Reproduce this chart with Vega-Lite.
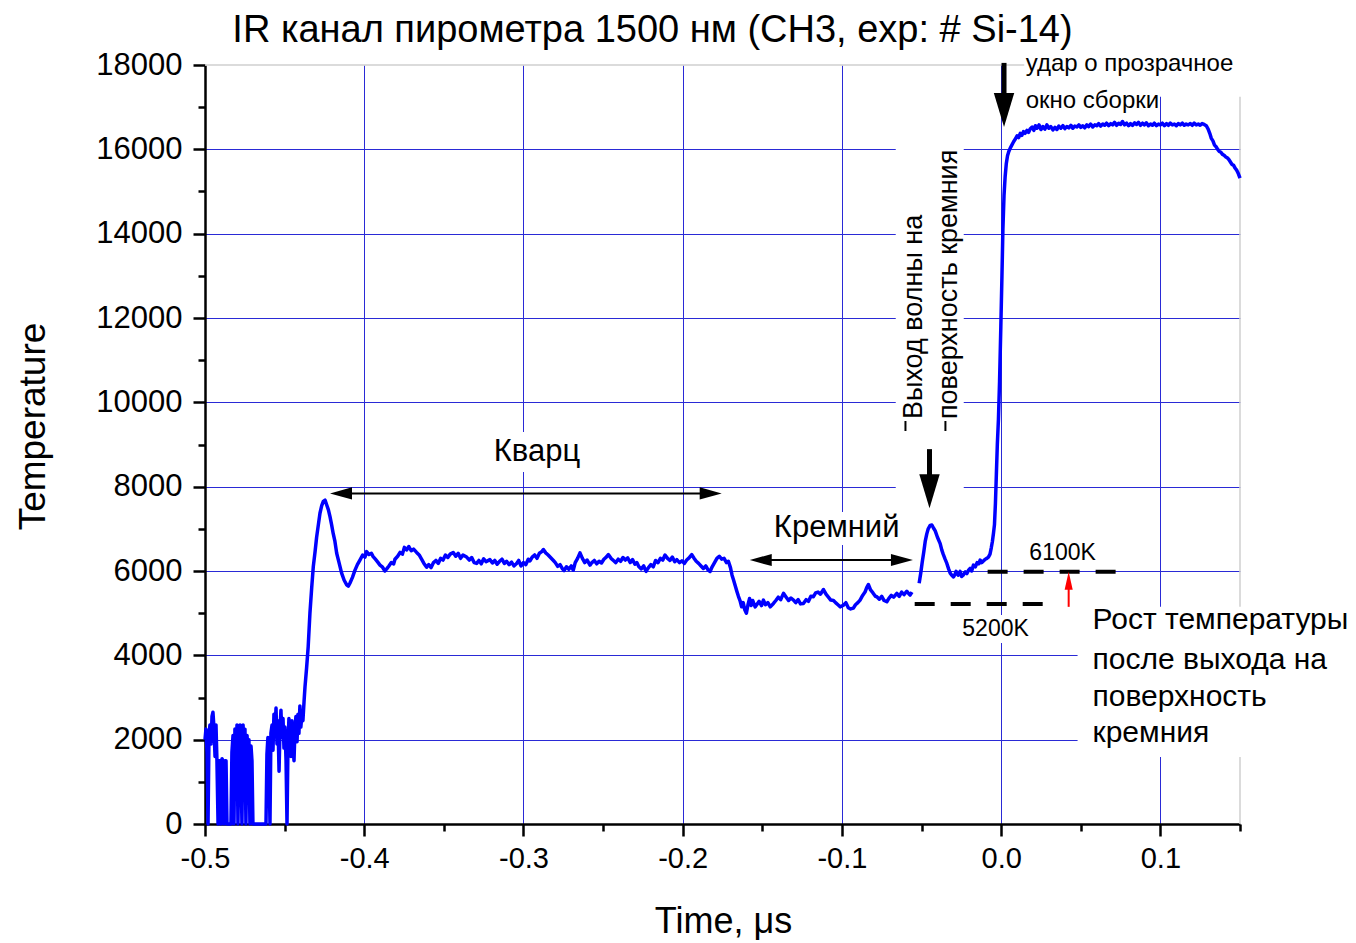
{
"$schema":"https://vega.github.io/schema/vega-lite/v6.json",
"width":1035,"height":759,"autosize":"none",
"padding":{"left":205,"top":65,"right":116,"bottom":119},
"background":"white",
"config":{"view":{"stroke":null},"font":"Liberation Sans"},
"title":{"text":"IR канал пирометра 1500 нм (CH3, exp: # Si-14)","font":"Liberation Sans","fontSize":38,"fontWeight":"normal","color":"black","anchor":"middle","dx":-70,"dy":39,"offset":8,"baseline":"alphabetic"},
"datasets":{
"curveA":[
{"t":-0.5,"T":2000},{"t":-0.4994,"T":2250},{"t":-0.4987,"T":1700},{"t":-0.4981,"T":0},{"t":-0.4975,"T":2100},{"t":-0.4969,"T":2350},{"t":-0.4962,"T":1900},{"t":-0.4956,"T":2550},{"t":-0.495,"T":2650},{"t":-0.4944,"T":2300},{"t":-0.4937,"T":1600},{"t":-0.4931,"T":2350},{"t":-0.4925,"T":1500},{"t":-0.4918,"T":0},{"t":-0.4912,"T":1500},{"t":-0.4906,"T":1500},{"t":-0.49,"T":0},{"t":-0.4893,"T":1550},{"t":-0.4887,"T":1500},{"t":-0.4881,"T":0},{"t":-0.4874,"T":1500},{"t":-0.4868,"T":1500},{"t":-0.4862,"T":0},{"t":-0.4837,"T":0},{"t":-0.4831,"T":1700},{"t":-0.4824,"T":2100},{"t":-0.4818,"T":0},{"t":-0.4812,"T":2250},{"t":-0.4805,"T":1550},{"t":-0.4799,"T":2350},{"t":-0.4793,"T":0},{"t":-0.4787,"T":1900},{"t":-0.478,"T":2350},{"t":-0.4774,"T":1500},{"t":-0.4768,"T":0},{"t":-0.4761,"T":2350},{"t":-0.4755,"T":1800},{"t":-0.4749,"T":2250},{"t":-0.4743,"T":0},{"t":-0.4736,"T":2100},{"t":-0.473,"T":1700},{"t":-0.4724,"T":2000},{"t":-0.4718,"T":0},{"t":-0.4711,"T":1850},{"t":-0.4705,"T":1500},{"t":-0.4699,"T":0},{"t":-0.4617,"T":0},{"t":-0.4611,"T":1650},{"t":-0.4605,"T":2050},{"t":-0.4598,"T":1500},{"t":-0.4592,"T":0},{"t":-0.4586,"T":2150},{"t":-0.4579,"T":2350},{"t":-0.4573,"T":1750},{"t":-0.4567,"T":2600},{"t":-0.4561,"T":2100},{"t":-0.4554,"T":2750},{"t":-0.4548,"T":1900},{"t":-0.4542,"T":2450},{"t":-0.4535,"T":1250},{"t":-0.4529,"T":2250},{"t":-0.4523,"T":2700},{"t":-0.4517,"T":2050},{"t":-0.451,"T":2500},{"t":-0.4504,"T":1800},{"t":-0.4498,"T":2300},{"t":-0.4491,"T":1500},{"t":-0.4485,"T":0},{"t":-0.4479,"T":1850},{"t":-0.4473,"T":2500},{"t":-0.4466,"T":2200},{"t":-0.446,"T":1600},{"t":-0.4454,"T":2450},{"t":-0.4448,"T":1900},{"t":-0.4441,"T":1500},{"t":-0.4435,"T":2250},{"t":-0.4429,"T":2550},{"t":-0.4422,"T":1950},{"t":-0.4416,"T":2600},{"t":-0.441,"T":2150},{"t":-0.4404,"T":2800},{"t":-0.4398,"T":2300},{"t":-0.4391,"T":2600},{"t":-0.4385,"T":2450},{"t":-0.4378,"T":2900},
{"t":-0.4372,"T":3250},{"t":-0.4362,"T":3700},{"t":-0.4352,"T":4200},{"t":-0.4341,"T":5000},{"t":-0.433,"T":5600},{"t":-0.432,"T":6100},{"t":-0.4309,"T":6450},{"t":-0.4299,"T":6800},{"t":-0.4288,"T":7100},{"t":-0.4278,"T":7370},{"t":-0.4267,"T":7550},{"t":-0.4257,"T":7650},{"t":-0.4246,"T":7680},{"t":-0.4236,"T":7570},{"t":-0.4225,"T":7450},{"t":-0.4215,"T":7290},{"t":-0.4205,"T":7100},{"t":-0.4195,"T":6890},{"t":-0.4184,"T":6700},{"t":-0.4173,"T":6420},{"t":-0.4157,"T":6180},{"t":-0.4142,"T":5950},{"t":-0.4126,"T":5780},{"t":-0.411,"T":5670},{"t":-0.41,"T":5640},{"t":-0.409,"T":5710},{"t":-0.4074,"T":5850},{"t":-0.4058,"T":6020},{"t":-0.4043,"T":6150},{"t":-0.4027,"T":6260},
{"t":-0.401,"T":6380},{"t":-0.3995,"T":6330},{"t":-0.3985,"T":6460},{"t":-0.397,"T":6390},{"t":-0.3955,"T":6420},{"t":-0.3944,"T":6340},{"t":-0.393,"T":6280},{"t":-0.3915,"T":6210},{"t":-0.3901,"T":6140},{"t":-0.3885,"T":6090},{"t":-0.387,"T":6000},{"t":-0.3859,"T":6050},{"t":-0.3845,"T":6120},{"t":-0.383,"T":6200},{"t":-0.3815,"T":6170},{"t":-0.3807,"T":6280},{"t":-0.379,"T":6350},{"t":-0.3775,"T":6440},{"t":-0.376,"T":6400},{"t":-0.3748,"T":6560},{"t":-0.3734,"T":6500},{"t":-0.372,"T":6580},{"t":-0.3705,"T":6480},{"t":-0.369,"T":6520},{"t":-0.3671,"T":6440},{"t":-0.3655,"T":6380},{"t":-0.364,"T":6280},{"t":-0.3625,"T":6180},{"t":-0.3608,"T":6090},{"t":-0.3595,"T":6150},{"t":-0.358,"T":6080},{"t":-0.3565,"T":6200},{"t":-0.355,"T":6250},{"t":-0.3535,"T":6180},{"t":-0.352,"T":6300},{"t":-0.3505,"T":6260},{"t":-0.349,"T":6380},{"t":-0.3475,"T":6320},{"t":-0.346,"T":6400},{"t":-0.3441,"T":6440},{"t":-0.3425,"T":6350},{"t":-0.341,"T":6420},{"t":-0.3395,"T":6300},{"t":-0.338,"T":6380},{"t":-0.3357,"T":6330},{"t":-0.334,"T":6260},{"t":-0.3325,"T":6320},{"t":-0.331,"T":6200},{"t":-0.3294,"T":6180},{"t":-0.328,"T":6250},{"t":-0.3265,"T":6170},{"t":-0.325,"T":6290},{"t":-0.3235,"T":6220},{"t":-0.3211,"T":6270},{"t":-0.3195,"T":6190},{"t":-0.318,"T":6250},{"t":-0.3165,"T":6160},{"t":-0.315,"T":6230},{"t":-0.3135,"T":6280},{"t":-0.312,"T":6180},{"t":-0.3106,"T":6230},{"t":-0.309,"T":6150},{"t":-0.3075,"T":6210},{"t":-0.306,"T":6120},{"t":-0.3043,"T":6180},{"t":-0.303,"T":6250},{"t":-0.3015,"T":6120},{"t":-0.3,"T":6200},{"t":-0.2985,"T":6150},{"t":-0.297,"T":6280},{"t":-0.2959,"T":6240},{"t":-0.2945,"T":6330},{"t":-0.293,"T":6380},{"t":-0.2915,"T":6300},{"t":-0.29,"T":6420},{"t":-0.2885,"T":6460},{"t":-0.2875,"T":6510},{"t":-0.286,"T":6430},{"t":-0.2845,"T":6380},{"t":-0.283,"T":6320},{"t":-0.2812,"T":6250},{"t":-0.28,"T":6200},{"t":-0.2785,"T":6110},{"t":-0.277,"T":6150},{"t":-0.2755,"T":6050},{"t":-0.2745,"T":6010},{"t":-0.273,"T":6100},{"t":-0.2715,"T":6040},{"t":-0.27,"T":6120},{"t":-0.2687,"T":6020},{"t":-0.2675,"T":6200},{"t":-0.266,"T":6300},{"t":-0.2645,"T":6430},{"t":-0.263,"T":6300},{"t":-0.2615,"T":6200},{"t":-0.26,"T":6260},{"t":-0.2582,"T":6140},{"t":-0.257,"T":6200},{"t":-0.2555,"T":6250},{"t":-0.254,"T":6170},{"t":-0.2525,"T":6230},{"t":-0.251,"T":6190},{"t":-0.2495,"T":6280},{"t":-0.248,"T":6330},{"t":-0.2467,"T":6390},{"t":-0.245,"T":6300},{"t":-0.2435,"T":6250},{"t":-0.242,"T":6200},{"t":-0.2405,"T":6280},{"t":-0.239,"T":6230},{"t":-0.2375,"T":6320},{"t":-0.236,"T":6260},{"t":-0.2345,"T":6310},{"t":-0.233,"T":6200},{"t":-0.2315,"T":6270},{"t":-0.23,"T":6160},{"t":-0.2288,"T":6200},{"t":-0.2275,"T":6100},{"t":-0.226,"T":6050},{"t":-0.2245,"T":6120},{"t":-0.223,"T":5990},{"t":-0.2215,"T":6080},{"t":-0.22,"T":6150},{"t":-0.2185,"T":6100},{"t":-0.217,"T":6250},{"t":-0.2155,"T":6200},{"t":-0.214,"T":6300},{"t":-0.2125,"T":6260},{"t":-0.2111,"T":6380},{"t":-0.2095,"T":6300},{"t":-0.208,"T":6250},{"t":-0.2065,"T":6330},{"t":-0.205,"T":6220},{"t":-0.2037,"T":6270},{"t":-0.202,"T":6200},{"t":-0.2005,"T":6240},{"t":-0.199,"T":6180},{"t":-0.1975,"T":6260},{"t":-0.196,"T":6310},{"t":-0.1943,"T":6390},{"t":-0.193,"T":6310},{"t":-0.1915,"T":6230},{"t":-0.19,"T":6180},{"t":-0.1885,"T":6120},{"t":-0.187,"T":6060},{"t":-0.1855,"T":6120},{"t":-0.184,"T":6020},{"t":-0.1828,"T":5990},{"t":-0.1815,"T":6100},{"t":-0.18,"T":6200},{"t":-0.1785,"T":6300},{"t":-0.177,"T":6350},{"t":-0.1755,"T":6280},{"t":-0.174,"T":6300},{"t":-0.1725,"T":6200},{"t":-0.1713,"T":6230},{"t":-0.17,"T":6080},{"t":-0.169,"T":5900},{"t":-0.1681,"T":5790},{"t":-0.167,"T":5650},{"t":-0.166,"T":5520},{"t":-0.165,"T":5400},{"t":-0.164,"T":5300},{"t":-0.163,"T":5150},{"t":-0.162,"T":5250},{"t":-0.161,"T":5080},{"t":-0.16,"T":5000},{"t":-0.159,"T":5200},{"t":-0.158,"T":5350},{"t":-0.157,"T":5180},{"t":-0.156,"T":5300},{"t":-0.1545,"T":5150},{"t":-0.1535,"T":5200},{"t":-0.152,"T":5280},{"t":-0.1505,"T":5180},{"t":-0.1493,"T":5310},{"t":-0.148,"T":5200},{"t":-0.1465,"T":5250},{"t":-0.145,"T":5150},{"t":-0.143,"T":5230},{"t":-0.1415,"T":5300},{"t":-0.14,"T":5380},{"t":-0.1385,"T":5320},{"t":-0.1367,"T":5470},{"t":-0.135,"T":5380},{"t":-0.1335,"T":5300},{"t":-0.132,"T":5360},{"t":-0.1304,"T":5310},{"t":-0.129,"T":5250},{"t":-0.1275,"T":5320},{"t":-0.126,"T":5220},{"t":-0.1242,"T":5230},{"t":-0.1225,"T":5320},{"t":-0.121,"T":5280},{"t":-0.1195,"T":5400},{"t":-0.1179,"T":5390},{"t":-0.1165,"T":5480},{"t":-0.115,"T":5500},{"t":-0.1135,"T":5450},{"t":-0.1116,"T":5560},{"t":-0.11,"T":5450},{"t":-0.1085,"T":5380},{"t":-0.107,"T":5310},{"t":-0.1053,"T":5300},{"t":-0.104,"T":5250},{"t":-0.1025,"T":5200},{"t":-0.101,"T":5150},{"t":-0.0991,"T":5190},{"t":-0.0975,"T":5250},{"t":-0.096,"T":5130},{"t":-0.0945,"T":5100},{"t":-0.0928,"T":5120},{"t":-0.0915,"T":5200},{"t":-0.09,"T":5250},{"t":-0.0886,"T":5310},{"t":-0.087,"T":5420},{"t":-0.0855,"T":5500},{"t":-0.0845,"T":5600},{"t":-0.0834,"T":5680},{"t":-0.082,"T":5550},{"t":-0.0805,"T":5480},{"t":-0.079,"T":5400},{"t":-0.0781,"T":5390},{"t":-0.0765,"T":5330},{"t":-0.075,"T":5400},{"t":-0.0735,"T":5300},{"t":-0.0718,"T":5270},{"t":-0.0705,"T":5350},{"t":-0.069,"T":5420},{"t":-0.0675,"T":5380},{"t":-0.0655,"T":5470},{"t":-0.064,"T":5400},{"t":-0.0625,"T":5500},{"t":-0.061,"T":5440},{"t":-0.0592,"T":5520},{"t":-0.058,"T":5460},{"t":-0.0572,"T":5430},{"t":-0.056,"T":5500}],
"curveB":[
{"t":-0.0515,"T":5710},{"t":-0.0505,"T":5950},{"t":-0.0496,"T":6200},{"t":-0.0486,"T":6450},{"t":-0.0477,"T":6700},{"t":-0.0467,"T":6880},{"t":-0.0458,"T":7000},{"t":-0.0446,"T":7080},{"t":-0.0435,"T":7090},{"t":-0.0425,"T":7020},{"t":-0.0414,"T":6950},{"t":-0.04,"T":6800},{"t":-0.0383,"T":6650},{"t":-0.0373,"T":6500},{"t":-0.0364,"T":6400},{"t":-0.0352,"T":6280},{"t":-0.0341,"T":6180},{"t":-0.033,"T":6050},{"t":-0.032,"T":5950},{"t":-0.031,"T":5900},{"t":-0.0299,"T":5860},{"t":-0.029,"T":5920},{"t":-0.0283,"T":5990},{"t":-0.027,"T":5900},{"t":-0.0258,"T":5990},{"t":-0.0248,"T":5870},{"t":-0.0239,"T":5900},{"t":-0.0225,"T":5980},{"t":-0.0215,"T":5940},{"t":-0.0205,"T":6020},{"t":-0.0195,"T":6060},{"t":-0.0185,"T":6000},{"t":-0.0174,"T":6140},{"t":-0.0162,"T":6100},{"t":-0.0151,"T":6200},{"t":-0.014,"T":6170},{"t":-0.0132,"T":6260},{"t":-0.0122,"T":6200},{"t":-0.0113,"T":6230},{"t":-0.01,"T":6280},{"t":-0.009,"T":6300},{"t":-0.008,"T":6330},{"t":-0.007,"T":6400},{"t":-0.0062,"T":6550},{"t":-0.0055,"T":6700},{"t":-0.0048,"T":6900},{"t":-0.0042,"T":7100},{"t":-0.0036,"T":7600},{"t":-0.003,"T":8300},{"t":-0.0024,"T":9000},{"t":-0.0017,"T":9600},{"t":-0.001,"T":10500},{"t":-0.0002,"T":11800},{"t":0.0005,"T":13000},{"t":0.0011,"T":14100},{"t":0.0018,"T":14900},{"t":0.0025,"T":15350},{"t":0.0032,"T":15650},{"t":0.004,"T":15850},{"t":0.0048,"T":15950},{"t":0.0057,"T":16030},{"t":0.0067,"T":16100},{"t":0.0078,"T":16180},{"t":0.009,"T":16250},{"t":0.01,"T":16320},{"t":0.011,"T":16280},{"t":0.012,"T":16380},{"t":0.013,"T":16330},{"t":0.014,"T":16420},{"t":0.015,"T":16380},{"t":0.0162,"T":16450},{"t":0.0172,"T":16400},{"t":0.0182,"T":16480},{"t":0.0195,"T":16530},{"t":0.0205,"T":16450},{"t":0.0215,"T":16560},{"t":0.0225,"T":16500},{"t":0.0238,"T":16580},{"t":0.025,"T":16470},{"t":0.0262,"T":16540},{"t":0.0275,"T":16480},{"t":0.0287,"T":16580},{"t":0.03,"T":16500},{"t":0.0312,"T":16540},{"t":0.0325,"T":16460},{"t":0.0338,"T":16520},{"t":0.035,"T":16470},{"t":0.0362,"T":16550},{"t":0.0375,"T":16500},{"t":0.0388,"T":16560},{"t":0.04,"T":16490},{"t":0.0412,"T":16540},{"t":0.0425,"T":16510},{"t":0.0438,"T":16570},{"t":0.045,"T":16500},{"t":0.0462,"T":16550},{"t":0.0475,"T":16530},{"t":0.0488,"T":16580},{"t":0.05,"T":16520},{"t":0.0512,"T":16560},{"t":0.0525,"T":16510},{"t":0.0538,"T":16580},{"t":0.055,"T":16540},{"t":0.0562,"T":16600},{"t":0.0575,"T":16530},{"t":0.0588,"T":16580},{"t":0.06,"T":16560},{"t":0.0612,"T":16610},{"t":0.0625,"T":16550},{"t":0.0638,"T":16600},{"t":0.065,"T":16570},{"t":0.0662,"T":16620},{"t":0.0675,"T":16560},{"t":0.0688,"T":16610},{"t":0.07,"T":16580},{"t":0.0712,"T":16640},{"t":0.0725,"T":16570},{"t":0.0738,"T":16620},{"t":0.075,"T":16590},{"t":0.0762,"T":16660},{"t":0.0775,"T":16580},{"t":0.0788,"T":16620},{"t":0.08,"T":16560},{"t":0.0812,"T":16610},{"t":0.0825,"T":16570},{"t":0.0838,"T":16630},{"t":0.085,"T":16590},{"t":0.0862,"T":16640},{"t":0.0875,"T":16570},{"t":0.0888,"T":16620},{"t":0.09,"T":16580},{"t":0.0912,"T":16630},{"t":0.0925,"T":16560},{"t":0.0938,"T":16600},{"t":0.095,"T":16570},{"t":0.0962,"T":16620},{"t":0.0975,"T":16560},{"t":0.0988,"T":16600},{"t":0.1,"T":16580},{"t":0.1012,"T":16620},{"t":0.1025,"T":16560},{"t":0.1038,"T":16610},{"t":0.105,"T":16570},{"t":0.1062,"T":16620},{"t":0.1075,"T":16580},{"t":0.1088,"T":16600},{"t":0.11,"T":16560},{"t":0.1112,"T":16610},{"t":0.1125,"T":16580},{"t":0.1138,"T":16620},{"t":0.115,"T":16570},{"t":0.1162,"T":16600},{"t":0.1175,"T":16580},{"t":0.1188,"T":16610},{"t":0.12,"T":16570},{"t":0.1212,"T":16620},{"t":0.1225,"T":16580},{"t":0.1238,"T":16600},{"t":0.125,"T":16570},{"t":0.1262,"T":16610},{"t":0.1275,"T":16590},{"t":0.1288,"T":16560},{"t":0.13,"T":16480},{"t":0.131,"T":16380},{"t":0.132,"T":16260},{"t":0.133,"T":16200},{"t":0.134,"T":16100},{"t":0.135,"T":16060},{"t":0.136,"T":16000},{"t":0.137,"T":15950},{"t":0.138,"T":15930},{"t":0.139,"T":15880},{"t":0.14,"T":15860},{"t":0.141,"T":15820},{"t":0.142,"T":15800},{"t":0.143,"T":15760},{"t":0.144,"T":15700},{"t":0.145,"T":15640},{"t":0.146,"T":15620},{"t":0.147,"T":15550},{"t":0.148,"T":15500},{"t":0.149,"T":15420},{"t":0.15,"T":15320}],
"hborder":[{"t":-0.5,"t2":0.15,"T":18000}],
"vborder":[{"t":0.15,"T":0,"T2":18000}],
"boxes":[{"t":-0.0662,"t2":-0.0235,"T":7850,"T2":16300},{"t":0.048,"t2":0.2,"T":1590,"T2":5150},{"t":0.0145,"t2":0.2,"T":17250,"T2":18100},{"t":-0.3223,"t2":-0.2596,"T":8347,"T2":9296},{"t":-0.1422,"t2":-0.0637,"T":6616,"T2":7400},{"t":-0.0261,"t2":0.0191,"T":4292,"T2":4956}],
"dashes":[{"t":-0.0085,"t2":0.0733,"T":5980},{"t":-0.0543,"t2":0.0286,"T":5220}],
"hshafts":[{"t":-0.417,"t2":-0.18,"T":7840},{"t":-0.153,"t2":-0.06,"T":6260}],
"lheads":[{"t":-0.4215,"T":7840},{"t":-0.1579,"T":6260}],
"rheads":[{"t":-0.1755,"T":7840},{"t":-0.0554,"T":6260}],
"vshafts":[{"t":0.0018,"T":18050,"T2":17200},{"t":-0.045,"T":8890,"T2":8200}],
"dheads":[{"t":0.0018,"T":16530},{"t":-0.045,"T":7490}],
"bars":[{"t":-0.0601,"T":9557,"T2":9320},{"t":-0.035,"T":9557,"T2":9320}],
"redshaft":[{"t":0.0424,"T":5150,"T2":5700}],
"redhead":[{"t":0.0424,"T":5980}],
"big":[{"t":-0.2915,"T":8820,"label":"Кварц"},{"t":-0.1033,"T":7020,"label":"Кремний"}],
"topnote":[{"t":0.0154,"T":18020,"label":"удар о прозрачное"},{"t":0.0154,"T":17145,"label":"окно сборки"}],
"kelvin":[{"t":0.0386,"T":6426,"label":"6100K"},{"t":-0.0035,"T":4624,"label":"5200K"}],
"rost":[{"t":0.0574,"T":4838,"label":"Рост температуры"},{"t":0.0574,"T":3889,"label":"после выхода на"},{"t":0.0574,"T":3012,"label":"поверхность"},{"t":0.0574,"T":2158,"label":"кремния"}],
"rot":[{"t":-0.0549,"T":9604,"label":"Выход волны на"},{"t":-0.033,"T":9604,"label":"поверхность кремния"}]
},
"encoding":{
"x":{"field":"t","type":"quantitative","scale":{"domain":[-0.5,0.15],"nice":false,"zero":false},
"axis":{"title":"Time, μs","values":[-0.5,-0.45,-0.4,-0.35,-0.3,-0.25,-0.2,-0.15,-0.1,-0.05,0,0.05,0.1,0.15],
"labelExpr":"abs(round(datum.value*100)) % 10 == 0 ? (datum.value < -0.001 ? '-' : '') + format(abs(datum.value), '.1f') : ''",
"labelFlush":false,"labelOverlap":false,"labelBound":false,
"tickSize":{"condition":{"test":"abs(round(datum.value*100)) % 10 == 0","value":12},"value":7},
"grid":true,"gridColor":"#2a2ad6","gridWidth":1,
"gridOpacity":{"condition":{"test":"abs(round(datum.value*100)) % 10 == 0 && datum.value > -0.45 && datum.value < 0.14","value":1},"value":0},
"domainColor":"black","domainWidth":2.5,"tickColor":"black","tickWidth":2.5,
"labelFont":"Liberation Sans","labelFontSize":29,"labelColor":"black","labelPadding":8,
"titleFont":"Liberation Sans","titleFontSize":36,"titleFontWeight":"normal","titleColor":"black",
"titleX":518,"titleY":108,"titleAlign":"center","titleBaseline":"alphabetic"}},
"y":{"field":"T","type":"quantitative","scale":{"domain":[0,18000],"nice":false,"zero":false},
"axis":{"title":"Temperature","values":[0,1000,2000,3000,4000,5000,6000,7000,8000,9000,10000,11000,12000,13000,14000,15000,16000,17000,18000],
"format":"d","labelExpr":"datum.value % 2000 == 0 ? datum.label : ''",
"labelOverlap":false,"labelBound":false,"labelFlush":false,
"tickSize":{"condition":{"test":"datum.value % 2000 == 0","value":12},"value":7},
"grid":true,"gridColor":"#2a2ad6","gridWidth":1,
"gridOpacity":{"condition":{"test":"datum.value % 2000 == 0 && datum.value > 0 && datum.value < 17000","value":1},"value":0},
"domainColor":"black","domainWidth":2.5,"tickColor":"black","tickWidth":2.5,
"labelFont":"Liberation Sans","labelFontSize":31,"labelColor":"black","labelPadding":11,
"titleFont":"Liberation Sans","titleFontSize":37,"titleFontWeight":"normal","titleColor":"black",
"titleX":-161,"titleY":361,"titleAngle":-90,"titleAlign":"center","titleBaseline":"alphabetic"}}
},
"layer":[
{"data":{"name":"hborder"},"mark":{"type":"rule","color":"#cfcfcf","strokeWidth":1.5},"encoding":{"x2":{"field":"t2"}}},
{"data":{"name":"vborder"},"mark":{"type":"rule","color":"#cfcfcf","strokeWidth":1.5},"encoding":{"y2":{"field":"T2"}}},
{"data":{"name":"boxes"},"mark":{"type":"rect","color":"white"},"encoding":{"x2":{"field":"t2"},"y2":{"field":"T2"}}},
{"data":{"name":"curveA"},"mark":{"type":"line","color":"#0000ff","strokeWidth":3.5,"strokeJoin":"round"},"encoding":{}},
{"data":{"name":"curveB"},"mark":{"type":"line","color":"#0000ff","strokeWidth":3.5,"strokeJoin":"round"},"encoding":{}},
{"data":{"name":"dashes"},"mark":{"type":"rule","color":"black","strokeWidth":4,"strokeDash":[20,16]},"encoding":{"x2":{"field":"t2"}}},
{"data":{"name":"hshafts"},"mark":{"type":"rule","color":"black","strokeWidth":2},"encoding":{"x2":{"field":"t2"}}},
{"data":{"name":"lheads"},"mark":{"type":"point","shape":"M0,0L2,-0.55L2,0.55Z","size":484,"filled":true,"color":"black","opacity":1},"encoding":{}},
{"data":{"name":"rheads"},"mark":{"type":"point","shape":"M0,0L-2,-0.55L-2,0.55Z","size":484,"filled":true,"color":"black","opacity":1},"encoding":{}},
{"data":{"name":"vshafts"},"mark":{"type":"rule","color":"black","strokeWidth":5},"encoding":{"y2":{"field":"T2"}}},
{"data":{"name":"dheads"},"mark":{"type":"point","shape":"M0,0L-0.6,-2L0.6,-2Z","size":1156,"filled":true,"color":"black","opacity":1},"encoding":{}},
{"data":{"name":"bars"},"mark":{"type":"rule","color":"black","strokeWidth":2},"encoding":{"y2":{"field":"T2"}}},
{"data":{"name":"redshaft"},"mark":{"type":"rule","color":"#ff0000","strokeWidth":2},"encoding":{"y2":{"field":"T2"}}},
{"data":{"name":"redhead"},"mark":{"type":"point","shape":"M0,0L-0.45,2L0.45,2Z","size":324,"filled":true,"color":"#ff0000","opacity":1},"encoding":{}},
{"data":{"name":"big"},"mark":{"type":"text","font":"Liberation Sans","fontSize":31,"color":"black","align":"center","baseline":"middle"},"encoding":{"text":{"field":"label"}}},
{"data":{"name":"topnote"},"mark":{"type":"text","font":"Liberation Sans","fontSize":24,"color":"black","align":"left","baseline":"middle"},"encoding":{"text":{"field":"label"}}},
{"data":{"name":"kelvin"},"mark":{"type":"text","font":"Liberation Sans","fontSize":23,"color":"black","align":"center","baseline":"middle"},"encoding":{"text":{"field":"label"}}},
{"data":{"name":"rost"},"mark":{"type":"text","font":"Liberation Sans","fontSize":30,"color":"black","align":"left","baseline":"middle"},"encoding":{"text":{"field":"label"}}},
{"data":{"name":"rot"},"mark":{"type":"text","font":"Liberation Sans","fontSize":27,"color":"black","align":"left","baseline":"middle","angle":270},"encoding":{"text":{"field":"label"}}}
]
}
